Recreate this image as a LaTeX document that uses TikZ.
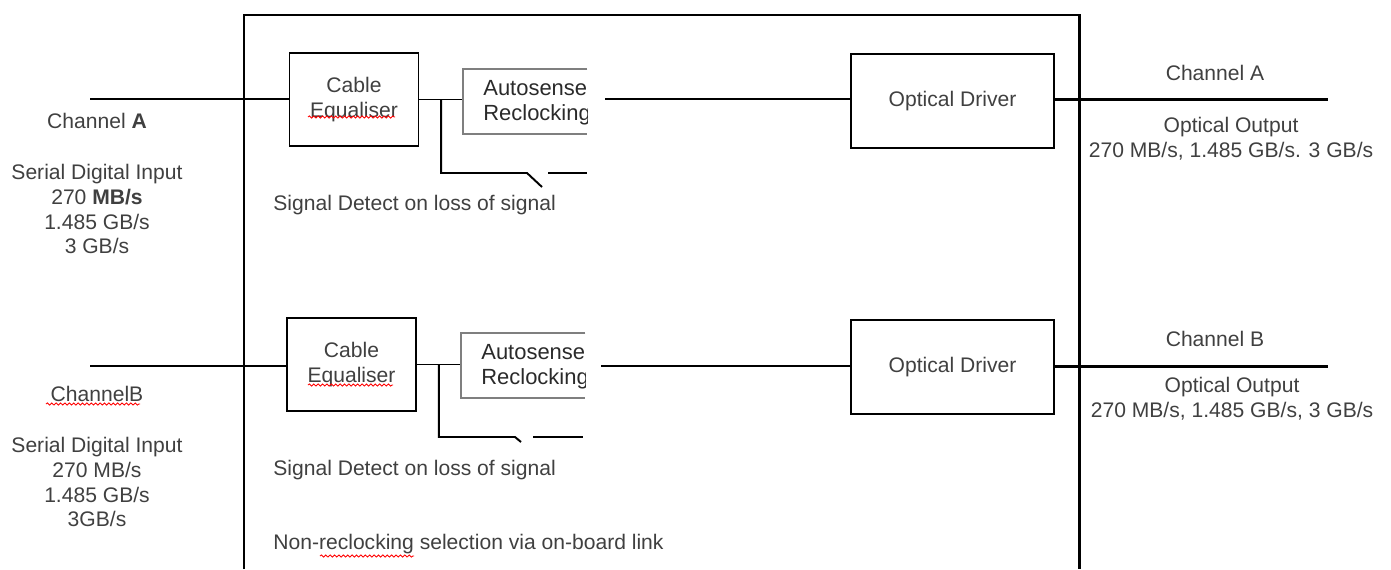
\documentclass[tikz,border=0pt]{standalone}
\usepackage{fontspec}
\setmainfont{Liberation Sans}
\usetikzlibrary{positioning,calc,decorations.pathmorphing}

\definecolor{txtgrey}{HTML}{404040}
\definecolor{darkgrey}{HTML}{2A2A2A}
\definecolor{boxgrey}{HTML}{7F7F7F}

\tikzset{
  wire/.style={line width=1.1pt},
  outwire/.style={line width=1.7pt},
  eqbox/.style={draw, line width=1.1pt, minimum width=2.58cm, minimum height=1.86cm, align=center, text=txtgrey},
  drvbox/.style={draw, line width=1.1pt, minimum width=4.06cm, minimum height=1.88cm, text=txtgrey},
  asbox/.style={minimum width=2.48cm, minimum height=1.3cm, inner sep=0pt},
  astext/.style={text=darkgrey, align=left, anchor=west, inner sep=0pt, font=\fontsize{12.5}{14.2}\selectfont},
  lbl/.style={text=txtgrey, align=center, inner sep=0pt},
  spell/.style={red, line width=0.5pt, decorate, decoration={snake, amplitude=0.6pt, segment length=2.5pt}}
}

\begin{document}
\begin{tikzpicture}[x=0.02cm, y=-0.02cm, font=\fontsize{12}{14.2}\selectfont]
    \useasboundingbox (0,0) rectangle (1391,569);

    % outer frame
    \draw[line width=1.7pt] (244,569) -- (244,15) -- (1079,15) -- (1079,569);

    % channel A
    \coordinate (inA) at (90,99);
    \node[eqbox] (ceA) at (354,99.5) {Cable\\Equaliser};
    \node[asbox] (asA) at (525,101.5) {};
    \begin{scope}
      \clip (asA.north west) rectangle (asA.south east);
      \node[astext] (asAtxt) at (483,102.5) {Autosense\\Reclocking};
    \end{scope}
    \coordinate (dA) at (605,99);
    \node[drvbox] (odA) at (952.5,101) {Optical Driver};
    \coordinate (outA) at (1328,99);
    \coordinate (brA) at ($(ceA.east)!0.5!(ceA.east -| asA.west)$);
    \coordinate (swA1) at (527,173);
    \coordinate (swA2) at (542,187);
    \coordinate (swA3) at (548,173);
    \coordinate (swA4) at (587,173);

    \draw[wire] (inA) -- (inA -| ceA.west);
    \draw[wire] (ceA.east) -- (ceA.east -| asA.west);
    \draw[wire, boxgrey] (asA.north east) -- (asA.north west) -- (asA.south west) -- (asA.south east);
    \draw[wire] (brA) |- (swA1) -- (swA2);
    \draw[wire] (swA3) -- (swA4);
    \draw[wire] (dA) -- (dA -| odA.west);
    \draw[outwire] (odA.east |- outA) -- (outA);

    \node[lbl] (chinA) at (97,121) {Channel \textbf{A}};
    \node[lbl] (sdiA) at (97,209) {Serial Digital Input\\270 \textbf{MB/s}\\1.485 GB/s\\3 GB/s};
    \node[lbl, anchor=west] (sigA) at (273,205) {Signal Detect on loss of signal};
    \node[lbl] (choutA) at (1215,73) {Channel A};
    \node[lbl] (ooA) at (1231,139) {Optical Output\\270 MB/s, 1.485 GB/s. 3 GB/s};
    \draw[spell] (308,117) -- (395,117);

    % channel B
    \coordinate (inB) at (90,366);
    \node[eqbox] (ceB) at (351.5,364.5) {Cable\\Equaliser};
    \node[asbox] (asB) at (523,365.5) {};
    \begin{scope}
      \clip (asB.north west) rectangle (asB.south east);
      \node[astext] (asBtxt) at (481,367) {Autosense\\Reclocking};
    \end{scope}
    \coordinate (dB) at (601,366);
    \node[drvbox] (odB) at (952.5,367) {Optical Driver};
    \coordinate (outB) at (1328,366);
    \coordinate (brB) at ($(ceB.east)!0.5!(ceB.east -| asB.west)$);
    \coordinate (swB1) at (515,437);
    \coordinate (swB2) at (521,442);
    \coordinate (swB3) at (533,437);
    \coordinate (swB4) at (583,437);

    \draw[wire] (inB) -- (inB -| ceB.west);
    \draw[wire] (ceB.east) -- (ceB.east -| asB.west);
    \draw[wire, boxgrey] (asB.north east) -- (asB.north west) -- (asB.south west) -- (asB.south east);
    \draw[wire] (brB) |- (swB1) -- (swB2);
    \draw[wire] (swB3) -- (swB4);
    \draw[wire] (dB) -- (dB -| odB.west);
    \draw[outwire] (odB.east |- outB) -- (outB);

    \node[lbl] (chinB) at (97,394) {ChannelB};
    \node[lbl] (sdiB) at (97,482) {Serial Digital Input\\270 MB/s\\1.485 GB/s\\3GB/s};
    \node[lbl, anchor=west] (sigB) at (273,470) {Signal Detect on loss of signal};
    \node[lbl] (choutB) at (1215,339) {Channel B};
    \node[lbl] (ooB) at (1232,399) {Optical Output\\270 MB/s, 1.485 GB/s, 3 GB/s};
    \node[lbl, anchor=west] (nrl) at (273,544) {Non-reclocking selection via on-board link};
    \draw[spell] (308,385) -- (393,385);
    \draw[spell] (46,404) -- (140,404);
    \draw[spell] (320,556) -- (414,556);

\end{tikzpicture}
\end{document}
